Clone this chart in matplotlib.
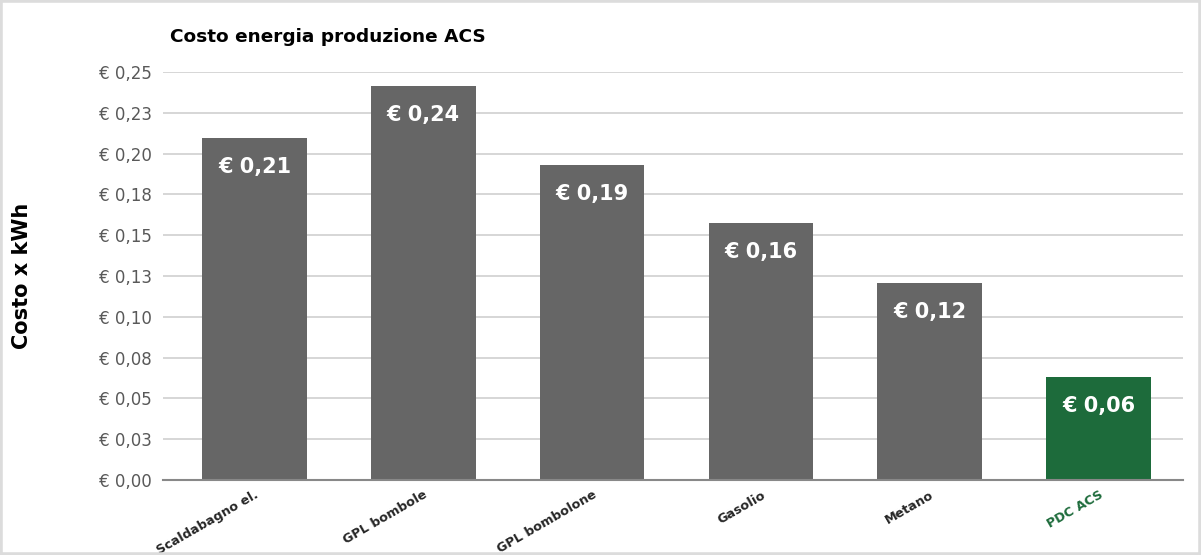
import matplotlib.pyplot as plt
from matplotlib.patches import Rectangle

categories = ["Scaldabagno el.", "GPL bombole", "GPL bombolone", "Gasolio", "Metano", "PDC ACS"]
costs = [0.2096, 0.2414, 0.1930, 0.1575, 0.1207, 0.0631]
value_labels = ["€ 0,21", "€ 0,24", "€ 0,19", "€ 0,16", "€ 0,12", "€ 0,06"]
tick_values = [0.0, 0.025, 0.05, 0.075, 0.1, 0.125, 0.15, 0.175, 0.2, 0.225, 0.25]
tick_labels = ["€ 0,00", "€ 0,03", "€ 0,05", "€ 0,08", "€ 0,10", "€ 0,13",
               "€ 0,15", "€ 0,18", "€ 0,20", "€ 0,23", "€ 0,25"]

GREY = "#666666"
GREEN = "#1d6b3b"
colors = [GREY] * 5 + [GREEN]

fig = plt.figure(figsize=(12.01, 5.55), dpi=100)
ax = fig.add_axes([0.1357, 0.1351, 0.985 - 0.1357, 0.8703 - 0.1351])

x = list(range(len(categories)))
ax.bar(x, costs, width=0.62, color=colors, zorder=3)

# value labels inside the top of each bar
for xi, v, lab in zip(x, costs, value_labels):
    ax.annotate(lab, (xi, v), xytext=(0, -29), textcoords="offset pixels",
                ha="center", va="center", color="white", fontsize=15,
                fontweight="bold", zorder=4)

ax.set_xlim(-0.542, 5.5)
ax.set_ylim(0, 0.25)
ax.set_yticks(tick_values)
ax.set_yticklabels(tick_labels, color="#595959", fontsize=12)
ax.yaxis.grid(True, color="#cfcfcf", linewidth=1.2, zorder=0)
ax.tick_params(axis="x", length=0, pad=6)
ax.tick_params(axis="y", length=0, pad=8)

ax.set_xticks(x)
ax.set_xticklabels(categories, rotation=30, ha="right", rotation_mode="anchor",
                   fontsize=9.2, fontweight="bold", color="#262626")
ax.get_xticklabels()[-1].set_color(GREEN)

for side in ["top", "right", "left"]:
    ax.spines[side].set_visible(False)
ax.spines["bottom"].set_color("#888888")
ax.spines["bottom"].set_linewidth(1.5)
ax.spines["bottom"].set_zorder(5)

ax.set_ylabel("Costo x kWh", fontsize=15, fontweight="bold")
ax.yaxis.set_label_coords(-0.128, 0.5)

fig.text(0.1415, 0.933, "Costo energia produzione ACS", fontsize=13.3,
         fontweight="bold", ha="left", va="center")

fig.patches.append(Rectangle((0, 0), 1, 1, transform=fig.transFigure,
                             fill=False, edgecolor="#dcdcdc", linewidth=4))

fig.savefig("out.png", dpi=100)
